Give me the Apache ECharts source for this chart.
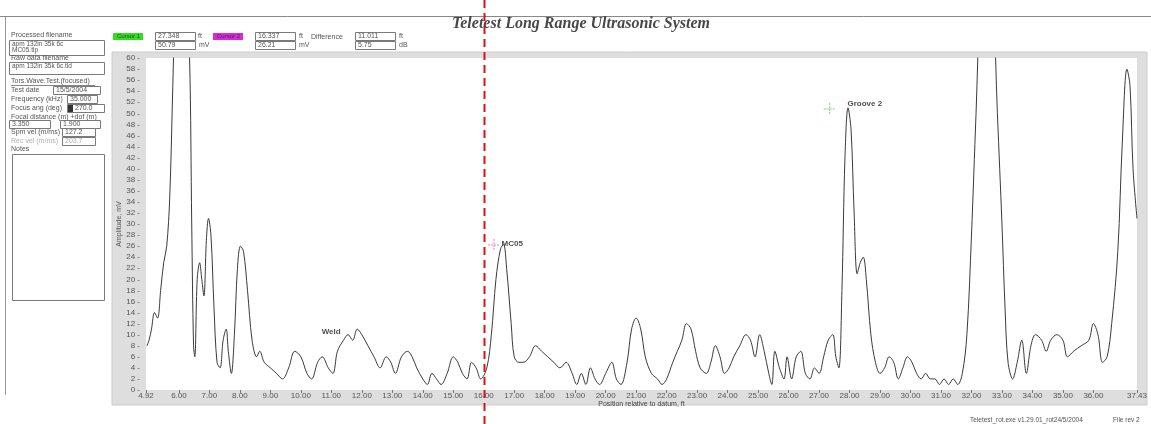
<!DOCTYPE html>
<html>
<head>
<meta charset="utf-8">
<script src="https://cdn.jsdelivr.net/npm/echarts@6/dist/echarts.min.js"></script>
<style>
  html, body { margin: 0; padding: 0; background: #fff; }
  #chart { width: 1151px; height: 424px; }
</style>
</head>
<body>
<div id="chart"></div>
<script>
// A-scan trace: position along the pipe (ft) and amplitude (mV)
const positions = [4.95,5.02,5.1,5.2,5.3,5.4,5.5,5.6,5.7,5.8,5.9,6.0,6.2,6.35,6.42,6.48,6.52,6.6,6.68,6.75,6.82,6.9,6.97,7.05,7.15,7.25,7.35,7.45,7.55,7.62,7.72,7.82,7.92,8.02,8.12,8.25,8.4,8.55,8.65,8.8,9.0,9.2,9.4,9.6,9.8,10.0,10.2,10.35,10.55,10.7,10.9,11.05,11.2,11.4,11.55,11.7,11.85,12.0,12.2,12.4,12.6,12.8,12.95,13.1,13.3,13.5,13.65,13.8,14.0,14.15,14.3,14.45,14.6,14.8,15.0,15.15,15.3,15.45,15.6,15.75,15.9,16.1,16.25,16.4,16.55,16.65,16.75,16.9,17.0,17.15,17.3,17.5,17.7,17.9,18.1,18.3,18.5,18.7,18.9,19.05,19.2,19.35,19.5,19.65,19.8,20.0,20.2,20.35,20.5,20.7,20.85,21.0,21.15,21.3,21.5,21.7,21.85,22.0,22.2,22.35,22.5,22.65,22.8,22.95,23.1,23.3,23.45,23.6,23.75,23.9,24.05,24.2,24.4,24.6,24.75,24.9,25.05,25.2,25.35,25.45,25.55,25.7,25.85,25.95,26.1,26.25,26.4,26.55,26.7,26.85,27.0,27.15,27.3,27.45,27.55,27.65,27.75,27.85,27.95,28.05,28.15,28.25,28.35,28.45,28.55,28.7,28.85,29.0,29.15,29.3,29.45,29.6,29.75,29.9,30.05,30.2,30.35,30.5,30.65,30.8,30.95,31.1,31.25,31.4,31.55,31.7,31.85,32.0,32.15,32.3,32.5,32.7,32.85,33.0,33.1,33.2,33.35,33.5,33.65,33.8,33.95,34.1,34.3,34.45,34.6,34.8,35.0,35.15,35.35,35.6,35.85,36.0,36.15,36.3,36.45,36.6,36.8,36.95,37.1,37.2,37.3,37.43];
const amplitudes = [8,9,11,14,13,18,23,26,35,55,75,80,80,60,30,8,6,20,23,20,17,27,31,28,15,5,4,9,11,7,3,10,22,26,25,18,9,6,7,5,4,3,2,4,7,6,3,2,5,6,4,3,7,9,10,9,11,10,8,6,4,6,5,3,6,7,6,4,2,1,3,2,1,3,6,5,3,2,5,4,2,4,10,20,25.5,26.3,22,12,6,5,5,6,8,7,6,5,4,5,3,1,3,1,4,2,1,3,5,2,1,5,11,13,11,6,3,2,1,2,5,7,9,12,11,7,4,3,5,8,6,3,4,6,8,10,9,6,10,7,3,1,7,4,2,6,2,6,7,3,2,4,3,6,9,10,6,4,18,42,51,47,32,21,23,24,20,10,5,3,4,6,5,2,4,6,5,3,2,3,2,2,1,2,1,2,1,3,10,28,50,70,75,70,50,30,15,5,2,5,9,3,8,10,9,7,9,10,9,6,7,8,9,12,10,5,6,12,25,45,58,55,40,31];

// Axis tick labels
const xTickValues = [4.92,6,7,8,9,10,11,12,13,14,15,16,17,18,19,20,21,22,23,24,25,26,27,28,29,30,31,32,33,34,35,36,37.43];
const yMin = 0, yMax = 60, yStep = 2;

// Feature annotations
const featureNames = ['Weld', 'MC05', 'Groove 2'];
const featurePos = [10.65, 16.55, 27.9];
const featureAmp = [10.6, 26.4, 51.7];

// Cursor readouts
const cursor1 = { pos: 27.348, amp: 50.79 };
const cursor2 = { pos: 16.337, amp: 26.21 };
const cursorDiff = { pos: '11.011', db: '5.75' };
const reviewPos = 16.0;

const ui = 'Liberation Sans, Arial, sans-serif';
const txt = (x, y, s, extra) => ({
  type: 'text', x: x, y: y, silent: true,
  style: Object.assign({ text: s, font: '7px ' + ui, fill: '#555', verticalAlign: 'middle' }, extra || {})
});
const box = (x1, y1, x2, y2) => ({
  type: 'rect', shape: { x: x1 + 0.5, y: y1 + 0.5, width: x2 - x1, height: y2 - y1 }, silent: true,
  style: { fill: '#fff', stroke: '#7a7a7a', lineWidth: 1 }
});

const panel = [
  // left information panel
  { type: 'line', shape: { x1: 5.5, y1: 17, x2: 5.5, y2: 395 }, style: { stroke: '#999', lineWidth: 1 }, silent: true },
  txt(11, 35, 'Processed filename'),
  box(9, 40, 104, 55),
  txt(12, 44.5, 'apm 132in 35k 6c', { font: '6.5px ' + ui }),
  txt(12, 50.5, 'MC05.tlp', { font: '6.5px ' + ui }),
  txt(11, 58.5, 'Raw data filename'),
  box(9, 62, 104, 74),
  txt(12, 66, 'apm 132in 35k 6c.tld', { font: '6.5px ' + ui }),
  txt(11, 81, 'Tors.Wave.Test.(focused)'),
  { type: 'line', shape: { x1: 11, y1: 85.5, x2: 95, y2: 85.5 }, style: { stroke: '#666', lineWidth: 0.8 }, silent: true },
  txt(11, 90, 'Test date'),
  box(53, 86, 100, 94),
  txt(56, 90, '15/5/2004'),
  txt(11, 99, 'Frequency (kHz)'),
  box(67, 95, 97, 103),
  txt(70, 99, '35.000'),
  txt(11, 108, 'Focus ang (deg)'),
  box(67, 104, 104, 112),
  { type: 'rect', shape: { x: 68, y: 105, width: 5, height: 7 }, style: { fill: '#333' }, silent: true },
  txt(75, 108, '270.0'),
  txt(11, 117, 'Focal distance (m) +dof (m)'),
  box(9, 120, 50, 128),
  txt(12, 124, '3.350'),
  box(60, 120, 100, 128),
  txt(63, 124, '1.900'),
  txt(11, 132, 'Spm vel (m/ms)'),
  box(62, 128, 95, 136),
  txt(65, 132, '127.2'),
  txt(11, 141, 'Rec vel (m/ms)', { fill: '#b0b0b0' }),
  box(62, 137, 95, 145),
  txt(65, 141, '203.7', { fill: '#b0b0b0' }),
  txt(11, 149, 'Notes'),
  box(12, 154, 104, 300),

  // cursor readouts
  { type: 'rect', shape: { x: 113, y: 33, width: 30, height: 7 }, style: { fill: '#33dd22' }, silent: true },
  txt(117, 36.5, 'Cursor 1', { fill: '#1f4f1f', font: '6px ' + ui }),
  box(155, 32, 195, 40), txt(158, 36, cursor1.pos.toFixed(3)), txt(198, 36, 'ft'),
  box(155, 41, 195, 49), txt(158, 45, cursor1.amp.toFixed(2)), txt(199, 45, 'mV'),
  { type: 'rect', shape: { x: 213, y: 33, width: 30, height: 7 }, style: { fill: '#d62ad6' }, silent: true },
  txt(217, 36.5, 'Cursor 2', { fill: '#4f1f4f', font: '6px ' + ui }),
  box(255, 32, 295, 40), txt(258, 36, cursor2.pos.toFixed(3)), txt(299, 36, 'ft'),
  box(255, 41, 295, 49), txt(258, 45, cursor2.amp.toFixed(2)), txt(299, 45, 'mV'),
  txt(311, 37, 'Difference'),
  box(355, 32, 395, 40), txt(358, 36, cursorDiff.pos), txt(399, 36, 'ft'),
  box(355, 41, 395, 49), txt(358, 45, cursorDiff.db), txt(399, 45, 'dB'),

  // window rule and footer
  { type: 'line', shape: { x1: 0, y1: 16.5, x2: 1151, y2: 16.5 }, style: { stroke: '#888', lineWidth: 1 }, silent: true },
  txt(970, 420, 'Teletest_rot.exe v1.29.01_rot24/5/2004', { font: '6.5px ' + ui }),
  txt(1113, 420, 'File rev 2', { font: '6.5px ' + ui }),

  // grey axis frame behind the plot
  { type: 'rect', z: -10, shape: { x: 112, y: 52, width: 1035, height: 353 }, style: { fill: '#dedede', stroke: '#cdcdcd' }, silent: true }
];

const chart = echarts.init(document.getElementById('chart'), null, { renderer: 'canvas' });

const option = {
  backgroundColor: '#fff',
  animation: false,
  title: {
    text: 'Teletest Long Range Ultrasonic System',
    left: 581, top: 16, textAlign: 'center', padding: 0,
    textStyle: { fontFamily: 'Liberation Serif, serif', fontStyle: 'italic', fontWeight: 'bold', fontSize: 16, color: '#484848' }
  },
  grid: { left: 146, right: 14, top: 58, bottom: 34, show: true, backgroundColor: '#fff', borderWidth: 0 },
  xAxis: {
    type: 'value', min: 4.92, max: 37.43,
    name: 'Position relative to datum, ft', nameLocation: 'middle', nameGap: 11, nameMoveOverlap: false,
    nameTextStyle: { fontSize: 7, color: '#444', fontFamily: ui },
    axisLine: { show: false },
    splitLine: { show: false },
    axisTick: { show: true, customValues: xTickValues, length: 3, lineStyle: { color: '#777' } },
    axisLabel: {
      customValues: xTickValues, fontSize: 8, color: '#555', fontFamily: ui, margin: 2,
      formatter: v => v.toFixed(2)
    }
  },
  yAxis: {
    type: 'value', min: yMin, max: yMax, interval: yStep,
    name: 'Amplitude, mV', nameLocation: 'middle', nameGap: 23, nameRotate: 90, nameMoveOverlap: false,
    nameTextStyle: { fontSize: 7, color: '#555', fontFamily: ui },
    axisLine: { show: false },
    splitLine: { show: false },
    axisTick: { show: false },
    axisLabel: { fontSize: 8, color: '#555', fontFamily: ui, margin: 6, formatter: v => v + ' -' }
  },
  graphic: panel,
  series: [
    {
      type: 'line', name: 'Amplitude',
      data: positions.map((p, i) => [p, amplitudes[i]]),
      smooth: 0.35, showSymbol: false, clip: true,
      lineStyle: { color: '#3a3a3a', width: 1 }
    },
    {
      type: 'custom', name: 'Cursors',
      data: [[cursor1.pos, cursor1.amp, 0], [cursor2.pos, cursor2.amp, 1]],
      renderItem: (params, api) => {
        const c = api.coord([api.value(0), api.value(1)]);
        const col = api.value(2) === 0 ? '#7ad67a' : '#e07ae0';
        const st = { stroke: col, lineWidth: 1, lineDash: [2, 1] };
        return {
          type: 'group', children: [
            { type: 'line', shape: { x1: c[0] - 6, y1: c[1], x2: c[0] + 6, y2: c[1] }, style: st },
            { type: 'line', shape: { x1: c[0], y1: c[1] - 6, x2: c[0], y2: c[1] + 6 }, style: st }
          ]
        };
      }
    },
    {
      type: 'scatter', name: 'Features', symbolSize: 0,
      data: featureNames.map((n, i) => ({ name: n, value: [featurePos[i], featureAmp[i]] })),
      label: {
        show: true, position: 'right', distance: 1, formatter: p => p.name,
        fontSize: 8, fontWeight: 'bold', color: '#222', fontFamily: ui
      }
    }
  ]
};

chart.setOption(option);

// dashed review marker at a fixed position, drawn over the full window height
const rx = Math.round(chart.convertToPixel({ xAxisIndex: 0 }, reviewPos)) + 0.5;
chart.setOption({
  graphic: panel.concat([{
    type: 'line', z: 100, silent: true,
    shape: { x1: rx, y1: 0, x2: rx, y2: 424 },
    style: { stroke: '#dd1111', lineWidth: 2, lineDash: [8, 5] }
  }])
}, { replaceMerge: ['graphic'] });
</script>
</body>
</html>
